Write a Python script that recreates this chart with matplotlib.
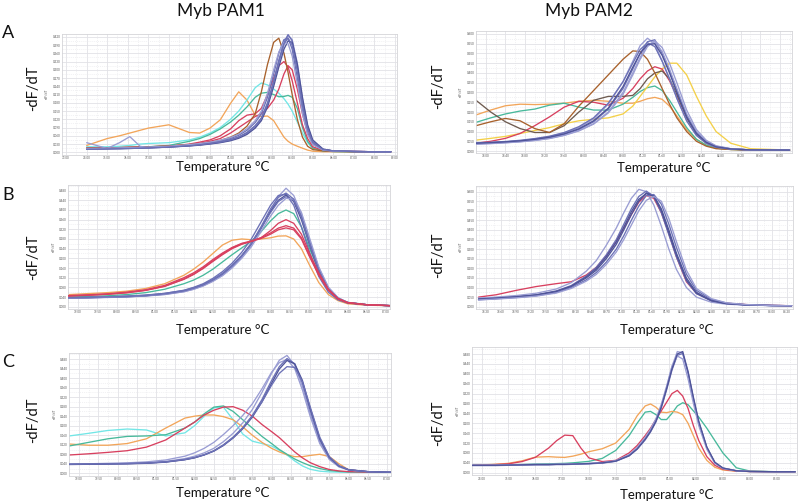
import matplotlib
matplotlib.use("Agg")
import matplotlib.pyplot as plt
from matplotlib.ticker import MultipleLocator, AutoMinorLocator, FormatStrFormatter

plt.rcParams['font.family'] = ['Lato', 'DejaVu Sans']

# ---------------- colours ----------------
C_BLUE = '#6c71b6'
C_BLUE_L = '#9a9dd3'
C_BLUE_D = '#4f5499'
C_BROWN = '#a8612c'
C_GREYBROWN = '#6e5b50'
C_RED = '#d8405f'
C_ORANGE = '#f2a55a'
C_CYAN = '#72e6e6'
C_TEAL = '#48b99b'
C_YELLOW = '#f4d048'

# ---------------- Panel A, Myb PAM1 ----------------
xA1 = [74, 75, 75.6, 76.1, 76.6, 77, 78, 79, 79.5, 80, 80.5, 81, 81.4, 81.8, 82.2, 82.5,
       82.8, 83.1, 83.35, 83.6, 83.8, 84.0, 84.25, 84.5, 84.75, 85, 85.5, 86, 87, 88, 88.8]
A1_blue1 = [0.012, 0.013, 0.014, 0.015, 0.016, 0.017, 0.020, 0.025, 0.028, 0.033, 0.038, 0.046, 0.056, 0.072, 0.097, 0.125,
            0.18, 0.26, 0.335, 0.40, 0.428, 0.405, 0.31, 0.18, 0.09, 0.038, 0.010, 0.005, 0.003, 0.002, 0.002]
A1_blue2 = [0.013, 0.014, 0.015, 0.016, 0.017, 0.018, 0.021, 0.026, 0.030, 0.035, 0.041, 0.050, 0.062, 0.080, 0.108, 0.14,
            0.20, 0.285, 0.36, 0.41, 0.415, 0.375, 0.27, 0.15, 0.07, 0.03, 0.009, 0.005, 0.003, 0.002, 0.002]
A1_blue3 = [0.012, 0.013, 0.013, 0.014, 0.015, 0.016, 0.019, 0.023, 0.026, 0.030, 0.035, 0.042, 0.051, 0.065, 0.088, 0.115,
            0.165, 0.24, 0.31, 0.375, 0.405, 0.40, 0.32, 0.20, 0.10, 0.045, 0.012, 0.005, 0.003, 0.002, 0.002]
A1_blue4 = [0.014, 0.015, 0.016, 0.017, 0.018, 0.019, 0.022, 0.028, 0.032, 0.037, 0.044, 0.054, 0.066, 0.086, 0.115, 0.15,
            0.215, 0.30, 0.365, 0.40, 0.395, 0.35, 0.25, 0.14, 0.065, 0.028, 0.008, 0.004, 0.003, 0.002, 0.002]
A1_blue5 = [0.035, 0.014, 0.035, 0.057, 0.022, 0.016, 0.019, 0.024, 0.027, 0.031, 0.036, 0.044, 0.054, 0.069, 0.093, 0.12,
            0.17, 0.25, 0.325, 0.39, 0.425, 0.41, 0.325, 0.195, 0.095, 0.04, 0.011, 0.005, 0.003, 0.002, 0.002]
A1_blue6 = [0.011, 0.012, 0.013, 0.014, 0.015, 0.016, 0.019, 0.024, 0.027, 0.032, 0.037, 0.045, 0.055, 0.071, 0.095, 0.123,
            0.175, 0.255, 0.33, 0.395, 0.415, 0.39, 0.295, 0.17, 0.085, 0.036, 0.010, 0.005, 0.003, 0.002, 0.002]
A1_brown = [0.015, 0.016, 0.017, 0.018, 0.019, 0.020, 0.023, 0.028, 0.031, 0.036, 0.043, 0.055, 0.07, 0.095, 0.14, 0.22,
            0.32, 0.40, 0.415, 0.36, 0.29, 0.21, 0.12, 0.055, 0.022, 0.01, 0.005, 0.003, 0.002, 0.002, 0.002]
A1_red1 = [0.015, 0.016, 0.017, 0.018, 0.019, 0.020, 0.022, 0.030, 0.037, 0.045, 0.060, 0.085, 0.115, 0.135, 0.14, 0.16,
           0.21, 0.27, 0.315, 0.33, 0.31, 0.26, 0.18, 0.10, 0.05, 0.02, 0.007, 0.004, 0.003, 0.002, 0.002]
A1_red2 = [0.015, 0.016, 0.017, 0.018, 0.019, 0.020, 0.022, 0.028, 0.033, 0.040, 0.050, 0.070, 0.09, 0.11, 0.13, 0.14,
           0.16, 0.19, 0.23, 0.285, 0.315, 0.30, 0.23, 0.14, 0.07, 0.03, 0.008, 0.004, 0.003, 0.002, 0.002]
A1_cyan = [0.020, 0.020, 0.022, 0.025, 0.030, 0.032, 0.035, 0.045, 0.055, 0.07, 0.09, 0.12, 0.15, 0.19, 0.235, 0.252,
           0.245, 0.23, 0.215, 0.195, 0.175, 0.15, 0.11, 0.07, 0.035, 0.015, 0.005, 0.003, 0.002, 0.002, 0.002]
A1_teal = [0.015, 0.016, 0.017, 0.018, 0.019, 0.020, 0.025, 0.04, 0.05, 0.065, 0.085, 0.11, 0.135, 0.165, 0.20, 0.215,
           0.218, 0.21, 0.202, 0.203, 0.207, 0.20, 0.16, 0.09, 0.04, 0.015, 0.005, 0.003, 0.002, 0.002, 0.002]
A1_orange = [0.025, 0.05, 0.06, 0.07, 0.08, 0.088, 0.10, 0.072, 0.07, 0.088, 0.118, 0.178, 0.22, 0.19, 0.135, 0.13,
             0.132, 0.115, 0.085, 0.055, 0.04, 0.03, 0.022, 0.015, 0.008, 0.004, 0.002, 0.002, 0.002, 0.002, 0.002]

# ---------------- Panel A, Myb PAM2 ----------------
xA2 = [77.8, 78.1, 78.4, 78.7, 79.0, 79.3, 79.6, 79.9, 80.2, 80.5, 80.8, 81.0, 81.15, 81.3, 81.45, 81.6,
       81.75, 81.9, 82.1, 82.3, 82.5, 82.7, 83.0, 83.4, 84.2]
A2_blue1 = [0.040, 0.043, 0.047, 0.053, 0.062, 0.074, 0.093, 0.12, 0.165, 0.24, 0.355, 0.46, 0.54, 0.578, 0.55, 0.46,
            0.37, 0.27, 0.155, 0.08, 0.04, 0.02, 0.01, 0.006, 0.005]
A2_blue2 = [0.038, 0.041, 0.045, 0.050, 0.058, 0.068, 0.085, 0.11, 0.15, 0.215, 0.32, 0.42, 0.50, 0.56, 0.57, 0.50,
            0.41, 0.31, 0.18, 0.095, 0.048, 0.024, 0.011, 0.006, 0.005]
A2_blue3 = [0.036, 0.039, 0.043, 0.048, 0.055, 0.065, 0.081, 0.105, 0.14, 0.20, 0.30, 0.40, 0.48, 0.545, 0.56, 0.51,
            0.42, 0.32, 0.19, 0.10, 0.05, 0.025, 0.012, 0.006, 0.005]
A2_blue4 = [0.042, 0.045, 0.049, 0.055, 0.064, 0.076, 0.095, 0.125, 0.17, 0.245, 0.355, 0.45, 0.52, 0.555, 0.535, 0.46,
            0.37, 0.27, 0.155, 0.08, 0.04, 0.02, 0.01, 0.006, 0.005]
A2_blue5 = [0.035, 0.038, 0.042, 0.047, 0.054, 0.064, 0.08, 0.103, 0.138, 0.195, 0.29, 0.39, 0.47, 0.535, 0.565, 0.53,
            0.45, 0.35, 0.21, 0.11, 0.055, 0.027, 0.012, 0.006, 0.005]
A2_blue6 = [0.040, 0.043, 0.047, 0.052, 0.060, 0.071, 0.088, 0.114, 0.155, 0.22, 0.33, 0.43, 0.50, 0.545, 0.55, 0.49,
            0.40, 0.30, 0.175, 0.09, 0.045, 0.022, 0.011, 0.006, 0.005]
A2_brown = [0.13, 0.15, 0.167, 0.155, 0.115, 0.095, 0.14, 0.23, 0.31, 0.39, 0.47, 0.513, 0.51, 0.47, 0.40, 0.32,
            0.24, 0.17, 0.10, 0.05, 0.025, 0.012, 0.008, 0.005, 0.005]
A2_greybrown = [0.26, 0.20, 0.15, 0.115, 0.095, 0.095, 0.13, 0.20, 0.26, 0.28, 0.28, 0.285, 0.32, 0.37, 0.40, 0.41,
                0.37, 0.29, 0.17, 0.085, 0.04, 0.02, 0.01, 0.006, 0.005]
A2_orange = [0.185, 0.21, 0.232, 0.24, 0.238, 0.24, 0.245, 0.255, 0.26, 0.255, 0.245, 0.245, 0.255, 0.268, 0.275, 0.265,
             0.23, 0.18, 0.11, 0.06, 0.03, 0.015, 0.008, 0.005, 0.005]
A2_teal = [0.147, 0.17, 0.19, 0.205, 0.215, 0.235, 0.245, 0.225, 0.21, 0.21, 0.24, 0.275, 0.305, 0.325, 0.333, 0.31,
           0.26, 0.20, 0.12, 0.06, 0.03, 0.015, 0.008, 0.005, 0.005]
A2_red = [0.04, 0.05, 0.065, 0.09, 0.13, 0.175, 0.225, 0.255, 0.25, 0.235, 0.27, 0.32, 0.37, 0.41, 0.432, 0.42,
          0.36, 0.28, 0.17, 0.09, 0.045, 0.02, 0.01, 0.006, 0.005]
A2_yellow = [0.056, 0.065, 0.075, 0.09, 0.105, 0.12, 0.14, 0.155, 0.163, 0.17, 0.19, 0.23, 0.28, 0.33, 0.38, 0.42,
             0.45, 0.45, 0.39, 0.28, 0.18, 0.10, 0.04, 0.012, 0.005]

# ---------------- Panel B, Myb PAM1 ----------------
xB1 = [78.75, 79.25, 79.75, 80.25, 80.75, 81.25, 81.75, 82.0, 82.25, 82.5, 82.75, 83.0, 83.25, 83.5,
       83.75, 84.0, 84.2, 84.4, 84.6, 84.8, 85.0, 85.25, 85.5, 85.75, 86.0, 86.5, 87.15]
B1_blue1 = [0.035, 0.036, 0.038, 0.04, 0.044, 0.05, 0.062, 0.072, 0.086, 0.105, 0.13, 0.165, 0.205, 0.255,
            0.32, 0.395, 0.455, 0.49, 0.46, 0.385, 0.28, 0.16, 0.08, 0.037, 0.018, 0.008, 0.004]
B1_blue2 = [0.037, 0.038, 0.04, 0.043, 0.047, 0.055, 0.068, 0.08, 0.095, 0.117, 0.145, 0.18, 0.225, 0.28,
            0.35, 0.42, 0.46, 0.465, 0.42, 0.33, 0.23, 0.125, 0.06, 0.028, 0.015, 0.007, 0.004]
B1_blue3 = [0.036, 0.037, 0.039, 0.041, 0.045, 0.052, 0.064, 0.075, 0.09, 0.11, 0.135, 0.17, 0.21, 0.26,
            0.325, 0.395, 0.44, 0.462, 0.435, 0.36, 0.26, 0.145, 0.07, 0.033, 0.017, 0.008, 0.004]
B1_blue4 = [0.038, 0.039, 0.041, 0.044, 0.048, 0.055, 0.067, 0.078, 0.092, 0.112, 0.138, 0.172, 0.212, 0.262,
            0.325, 0.39, 0.435, 0.455, 0.44, 0.375, 0.275, 0.155, 0.075, 0.035, 0.017, 0.008, 0.004]
B1_blue5 = [0.036, 0.037, 0.039, 0.041, 0.045, 0.051, 0.062, 0.072, 0.086, 0.105, 0.128, 0.16, 0.20, 0.248,
            0.31, 0.375, 0.42, 0.448, 0.445, 0.39, 0.29, 0.165, 0.08, 0.037, 0.018, 0.008, 0.004]
B1_blue6 = [0.037, 0.038, 0.04, 0.042, 0.046, 0.053, 0.065, 0.076, 0.09, 0.11, 0.135, 0.168, 0.21, 0.262,
            0.33, 0.405, 0.452, 0.47, 0.445, 0.37, 0.265, 0.15, 0.072, 0.034, 0.017, 0.008, 0.004]
B1_red1 = [0.045, 0.048, 0.052, 0.058, 0.068, 0.085, 0.115, 0.135, 0.16, 0.19, 0.218, 0.243, 0.26, 0.27,
           0.285, 0.315, 0.345, 0.36, 0.345, 0.30, 0.225, 0.14, 0.072, 0.034, 0.017, 0.008, 0.004]
B1_red2 = [0.046, 0.049, 0.053, 0.06, 0.07, 0.088, 0.12, 0.14, 0.165, 0.195, 0.222, 0.245, 0.262, 0.272,
           0.285, 0.305, 0.325, 0.335, 0.325, 0.285, 0.215, 0.135, 0.07, 0.033, 0.017, 0.008, 0.004]
B1_red3 = [0.044, 0.047, 0.051, 0.057, 0.067, 0.084, 0.113, 0.133, 0.158, 0.187, 0.215, 0.24, 0.258, 0.27,
           0.282, 0.30, 0.318, 0.326, 0.318, 0.28, 0.21, 0.13, 0.068, 0.032, 0.016, 0.008, 0.004]
B1_teal = [0.04, 0.042, 0.045, 0.05, 0.058, 0.072, 0.095, 0.11, 0.13, 0.155, 0.185, 0.215, 0.243, 0.27,
           0.31, 0.355, 0.385, 0.40, 0.385, 0.33, 0.245, 0.15, 0.075, 0.035, 0.017, 0.008, 0.004]
B1_orange = [0.05, 0.054, 0.058, 0.064, 0.075, 0.095, 0.13, 0.155, 0.185, 0.22, 0.255, 0.275, 0.28, 0.277,
             0.28, 0.285, 0.292, 0.293, 0.28, 0.24, 0.175, 0.10, 0.05, 0.025, 0.012, 0.006, 0.004]

# ---------------- Panel B, Myb PAM2 ----------------
xB2 = [78.15, 78.5, 78.9, 79.3, 79.7, 80.0, 80.3, 80.5, 80.7, 80.9, 81.05, 81.2, 81.35, 81.5, 81.65,
       81.8, 81.95, 82.1, 82.3, 82.5, 82.8, 83.1, 83.5, 84.0, 84.4]
B2_blue1 = [0.045, 0.05, 0.058, 0.07, 0.092, 0.125, 0.185, 0.24, 0.32, 0.41, 0.49, 0.565, 0.612, 0.60, 0.53,
            0.42, 0.30, 0.195, 0.10, 0.05, 0.023, 0.013, 0.008, 0.006, 0.005]
B2_blue2 = [0.04, 0.045, 0.052, 0.062, 0.082, 0.11, 0.16, 0.205, 0.27, 0.35, 0.43, 0.51, 0.575, 0.603, 0.575,
            0.49, 0.375, 0.26, 0.135, 0.068, 0.03, 0.016, 0.009, 0.006, 0.005]
B2_blue3 = [0.038, 0.043, 0.05, 0.06, 0.078, 0.105, 0.15, 0.19, 0.25, 0.325, 0.40, 0.48, 0.55, 0.593, 0.58,
            0.51, 0.40, 0.28, 0.15, 0.075, 0.033, 0.017, 0.01, 0.006, 0.005]
B2_blue4 = [0.036, 0.041, 0.048, 0.057, 0.074, 0.10, 0.14, 0.178, 0.232, 0.30, 0.37, 0.45, 0.525, 0.58, 0.585,
            0.535, 0.43, 0.31, 0.17, 0.085, 0.038, 0.019, 0.01, 0.006, 0.005]
B2_blue5 = [0.04, 0.044, 0.051, 0.061, 0.08, 0.107, 0.155, 0.198, 0.26, 0.338, 0.415, 0.495, 0.56, 0.59, 0.575,
            0.50, 0.385, 0.27, 0.14, 0.07, 0.031, 0.016, 0.009, 0.006, 0.005]
B2_blue6 = [0.035, 0.04, 0.046, 0.055, 0.071, 0.095, 0.133, 0.168, 0.22, 0.285, 0.35, 0.425, 0.50, 0.555, 0.575,
            0.55, 0.46, 0.34, 0.19, 0.095, 0.042, 0.02, 0.011, 0.006, 0.005]
B2_red = [0.05, 0.062, 0.085, 0.105, 0.12, 0.13, 0.165, 0.205, 0.265, 0.34, 0.41, 0.48, 0.545, 0.58, 0.565,
          0.49, 0.38, 0.26, 0.13, 0.07, 0.032, 0.018, 0.011, 0.007, 0.005]

# ---------------- Panel C, Myb PAM1 ----------------
xC1 = [78.75, 79.25, 79.75, 80.25, 80.75, 81.25, 81.75, 82.0, 82.25, 82.5, 82.75, 83.0, 83.25, 83.5,
       83.75, 84.0, 84.2, 84.4, 84.6, 84.8, 85.0, 85.25, 85.5, 85.75, 86.0, 86.5, 87.15]
C1_blue1 = [0.038, 0.039, 0.04, 0.041, 0.044, 0.05, 0.062, 0.072, 0.086, 0.105, 0.133, 0.168, 0.212, 0.268,
            0.34, 0.42, 0.475, 0.495, 0.455, 0.365, 0.25, 0.13, 0.06, 0.028, 0.014, 0.007, 0.004]
C1_blue2 = [0.039, 0.04, 0.042, 0.044, 0.048, 0.056, 0.072, 0.086, 0.105, 0.13, 0.163, 0.20, 0.243, 0.292,
            0.355, 0.425, 0.465, 0.478, 0.44, 0.35, 0.24, 0.125, 0.058, 0.027, 0.014, 0.007, 0.004]
C1_blue3 = [0.038, 0.039, 0.04, 0.041, 0.043, 0.048, 0.058, 0.066, 0.078, 0.095, 0.12, 0.152, 0.192, 0.243,
            0.31, 0.39, 0.448, 0.482, 0.46, 0.38, 0.265, 0.14, 0.065, 0.03, 0.015, 0.007, 0.004]
C1_blue4 = [0.037, 0.038, 0.039, 0.04, 0.042, 0.047, 0.057, 0.065, 0.077, 0.093, 0.117, 0.148, 0.187, 0.236,
            0.30, 0.378, 0.438, 0.474, 0.46, 0.39, 0.275, 0.147, 0.068, 0.031, 0.015, 0.007, 0.004]
C1_blue5 = [0.038, 0.039, 0.04, 0.041, 0.043, 0.048, 0.058, 0.066, 0.078, 0.094, 0.118, 0.15, 0.19, 0.24,
            0.30, 0.37, 0.42, 0.448, 0.445, 0.385, 0.28, 0.152, 0.07, 0.032, 0.015, 0.007, 0.004]
C1_cyan = [0.157, 0.168, 0.18, 0.186, 0.182, 0.157, 0.17, 0.20, 0.24, 0.275, 0.278, 0.225, 0.165, 0.135,
           0.125, 0.115, 0.097, 0.077, 0.052, 0.031, 0.017, 0.009, 0.006, 0.005, 0.004, 0.004, 0.004]
C1_teal = [0.115, 0.13, 0.145, 0.155, 0.157, 0.162, 0.19, 0.215, 0.25, 0.278, 0.283, 0.26, 0.225, 0.19,
           0.155, 0.125, 0.10, 0.08, 0.06, 0.045, 0.032, 0.02, 0.012, 0.008, 0.006, 0.005, 0.004]
C1_orange = [0.123, 0.118, 0.118, 0.125, 0.145, 0.19, 0.232, 0.24, 0.245, 0.245, 0.238, 0.225, 0.195, 0.16,
             0.13, 0.105, 0.09, 0.078, 0.07, 0.07, 0.075, 0.08, 0.07, 0.04, 0.015, 0.006, 0.004]
C1_red = [0.077, 0.082, 0.088, 0.095, 0.11, 0.14, 0.19, 0.215, 0.245, 0.265, 0.278, 0.28, 0.265, 0.24,
          0.205, 0.175, 0.15, 0.12, 0.09, 0.065, 0.045, 0.028, 0.016, 0.01, 0.007, 0.005, 0.004]

# ---------------- Panel C, Myb PAM2 ----------------
xC2 = [73.65, 74.5, 75.0, 75.5, 76.0, 76.5, 76.8, 77.1, 77.4, 77.7, 78.0, 78.5, 79.0, 79.5, 79.8, 80.1,
       80.3, 80.5, 80.7, 80.9, 81.1, 81.3, 81.5, 81.7, 81.9, 82.1, 82.4, 82.7, 83.0, 83.5, 84.0, 85.0, 85.7]
C2_blue1 = [0.03, 0.03, 0.031, 0.032, 0.033, 0.033, 0.034, 0.034, 0.035, 0.036, 0.037, 0.04, 0.047, 0.07, 0.098, 0.138,
            0.17, 0.212, 0.27, 0.345, 0.43, 0.49, 0.485, 0.40, 0.295, 0.20, 0.10, 0.04, 0.018, 0.008, 0.005, 0.004, 0.004]
C2_blue2 = [0.029, 0.029, 0.03, 0.031, 0.032, 0.032, 0.033, 0.033, 0.034, 0.035, 0.036, 0.039, 0.046, 0.068, 0.095, 0.133,
            0.165, 0.205, 0.262, 0.335, 0.415, 0.475, 0.482, 0.405, 0.30, 0.205, 0.103, 0.042, 0.019, 0.008, 0.005, 0.004, 0.004]
C2_blue3 = [0.031, 0.031, 0.032, 0.033, 0.034, 0.034, 0.035, 0.035, 0.036, 0.037, 0.038, 0.041, 0.049, 0.073, 0.102, 0.143,
            0.176, 0.218, 0.276, 0.35, 0.43, 0.472, 0.46, 0.38, 0.28, 0.19, 0.095, 0.038, 0.017, 0.008, 0.005, 0.004, 0.004]
C2_blue4 = [0.03, 0.03, 0.031, 0.032, 0.033, 0.033, 0.034, 0.034, 0.035, 0.036, 0.037, 0.04, 0.047, 0.069, 0.096, 0.135,
            0.167, 0.208, 0.265, 0.34, 0.42, 0.48, 0.49, 0.41, 0.305, 0.208, 0.104, 0.042, 0.019, 0.008, 0.005, 0.004, 0.004]
C2_red = [0.03, 0.033, 0.036, 0.045, 0.062, 0.10, 0.13, 0.152, 0.15, 0.10, 0.06, 0.045, 0.05, 0.08, 0.11, 0.15,
          0.18, 0.215, 0.25, 0.285, 0.32, 0.333, 0.31, 0.26, 0.19, 0.13, 0.065, 0.03, 0.014, 0.007, 0.005, 0.004, 0.004]
C2_orange = [0.03, 0.034, 0.038, 0.048, 0.063, 0.065, 0.063, 0.062, 0.067, 0.075, 0.085, 0.097, 0.12, 0.175, 0.23, 0.27,
             0.278, 0.265, 0.245, 0.243, 0.248, 0.245, 0.235, 0.20, 0.15, 0.10, 0.05, 0.022, 0.011, 0.006, 0.005, 0.004, 0.004]
C2_teal = [0.03, 0.031, 0.032, 0.033, 0.035, 0.036, 0.037, 0.038, 0.04, 0.043, 0.046, 0.058, 0.09, 0.15, 0.20, 0.245,
           0.248, 0.235, 0.215, 0.215, 0.24, 0.27, 0.283, 0.275, 0.25, 0.225, 0.18, 0.13, 0.08, 0.02, 0.007, 0.004, 0.004]

# ---------------- figure ----------------
W, H = 800, 503
fig = plt.figure(figsize=(8.0, 5.03), dpi=100)
fig.patch.set_facecolor('white')


def fx(x):
    return x / W


def fy(y):
    return 1 - y / H


def make_axes(box, xlim, ylim, xstep, ystep):
    x0, x1, y0, y1 = box
    ax = fig.add_axes([fx(x0), fy(y1), (x1 - x0) / W, (y1 - y0) / H])
    ax.set_xlim(*xlim)
    ax.set_ylim(*ylim)
    ax.xaxis.set_major_locator(MultipleLocator(xstep))
    ax.yaxis.set_major_locator(MultipleLocator(ystep))
    ax.xaxis.set_minor_locator(AutoMinorLocator(2))
    ax.yaxis.set_minor_locator(AutoMinorLocator(2))
    ax.xaxis.set_major_formatter(FormatStrFormatter('%.2f'))
    ax.yaxis.set_major_formatter(FormatStrFormatter('%.3f'))
    ax.grid(which='major', color='#e2e2e6', lw=0.6, ls='-')
    ax.grid(which='minor', color='#ececef', lw=0.5, ls=(0, (1.5, 1.5)))
    ax.set_axisbelow(True)
    ax.tick_params(which='both', length=0, labelsize=2.2, labelcolor='#555555', pad=1.0)
    for s in ax.spines.values():
        s.set_color('#d4d4d8')
        s.set_linewidth(0.6)
    # tiny in-chart y label, left of the tick labels
    ax.text(-15 / (x1 - x0), 0.5, '-dF/dT', rotation=90, fontsize=2.4, color='#555555',
            ha='center', va='center', transform=ax.transAxes)
    return ax


def draw(ax, x, ys, color, lw=0.95, z=2):
    ax.plot(x, ys, color=color, lw=lw, zorder=z, solid_capstyle='round')


# Panel A left
ax = make_axes((62, 397, 33.5, 154.5), (72.8, 89.1), (-0.008, 0.432), 1.0, 0.03)
for y, c in [(A1_orange, C_ORANGE), (A1_cyan, C_CYAN), (A1_teal, C_TEAL), (A1_red1, C_RED),
             (A1_red2, C_RED), (A1_brown, C_BROWN)]:
    draw(ax, xA1, y, c)
for y, c in [(A1_blue5, C_BLUE_L), (A1_blue1, C_BLUE), (A1_blue2, C_BLUE), (A1_blue3, C_BLUE_D),
             (A1_blue4, C_BLUE_L), (A1_blue6, C_BLUE)]:
    draw(ax, xA1, y, c, z=3)

# Panel A right
ax = make_axes((476, 792, 31, 153), (77.8, 84.25), (-0.01, 0.615), 0.4, 0.05)
for y, c in [(A2_orange, C_ORANGE), (A2_teal, C_TEAL), (A2_yellow, C_YELLOW), (A2_red, C_RED),
             (A2_greybrown, C_GREYBROWN), (A2_brown, C_BROWN)]:
    draw(ax, xA2, y, c)
for y, c in [(A2_blue1, C_BLUE_L), (A2_blue2, C_BLUE), (A2_blue3, C_BLUE_L), (A2_blue4, C_BLUE),
             (A2_blue5, C_BLUE_L), (A2_blue6, C_BLUE_D)]:
    draw(ax, xA2, y, c, z=3)

# Panel B left
ax = make_axes((68.4, 390, 184.6, 309.1), (78.75, 87.1), (-0.01, 0.505), 0.5, 0.04)
for y, c in [(B1_orange, C_ORANGE), (B1_teal, C_TEAL)]:
    draw(ax, xB1, y, c)
for y, c in [(B1_blue1, C_BLUE_L), (B1_blue2, C_BLUE), (B1_blue3, C_BLUE_D), (B1_blue4, C_BLUE),
             (B1_blue5, C_BLUE_L), (B1_blue6, C_BLUE)]:
    draw(ax, xB1, y, c, z=3)
for y in [B1_red1, B1_red2, B1_red3]:
    draw(ax, xB1, y, C_RED, z=4)

# Panel B right
ax = make_axes((476, 792.6, 185.9, 308.6), (78.1, 84.42), (-0.01, 0.63), 0.3, 0.05)
draw(ax, xB2, B2_red, C_RED)
for y, c in [(B2_blue1, C_BLUE_L), (B2_blue2, C_BLUE), (B2_blue3, C_BLUE_D), (B2_blue4, C_BLUE),
             (B2_blue5, C_BLUE_D), (B2_blue6, C_BLUE_L)]:
    draw(ax, xB2, y, c, z=3)

# Panel C left
ax = make_axes((69.4, 391, 352.6, 475.7), (78.75, 87.1), (-0.01, 0.507), 0.5, 0.04)
for y, c in [(C1_cyan, C_CYAN), (C1_orange, C_ORANGE), (C1_teal, C_TEAL), (C1_red, C_RED)]:
    draw(ax, xC1, y, c)
for y, c in [(C1_blue1, C_BLUE_L), (C1_blue2, C_BLUE_L), (C1_blue3, C_BLUE), (C1_blue4, C_BLUE_D),
             (C1_blue5, C_BLUE)]:
    draw(ax, xC1, y, c, z=3)

# Panel C right
ax = make_axes((472.3, 796.6, 347.1, 475.2), (73.65, 85.75), (-0.01, 0.508), 1.0, 0.04)
for y, c in [(C2_teal, C_TEAL), (C2_orange, C_ORANGE), (C2_red, C_RED)]:
    draw(ax, xC2, y, c)
for y, c in [(C2_blue1, C_BLUE_L), (C2_blue2, C_BLUE), (C2_blue3, C_BLUE_L), (C2_blue4, C_BLUE_D)]:
    draw(ax, xC2, y, c, z=3)

# ---------------- figure texts ----------------
fig.text(fx(221), fy(11), 'Myb PAM1', fontsize=12.5, ha='center', va='center', color='#111111')
fig.text(fx(589), fy(11), 'Myb PAM2', fontsize=12.5, ha='center', va='center', color='#111111')
for lab, yy in [('A', 33), ('B', 195), ('C', 362)]:
    fig.text(fx(8), fy(yy), lab, fontsize=13, ha='center', va='center', color='#111111')
for xx, yy in [(33, 88), (438, 86), (33, 257), (438, 255), (33, 420), (438, 423)]:
    fig.text(fx(xx), fy(yy), '-dF/dT', fontsize=10.5, rotation=90, ha='center', va='center', color='#111111')
for xx, yy in [(223, 167), (664, 168), (223, 330), (667, 330), (223, 493), (667, 495)]:
    fig.text(fx(xx), fy(yy), 'Temperature °C', fontsize=9.5, ha='center', va='center', color='#111111')

fig.savefig('out.png', dpi=100, facecolor='white')
